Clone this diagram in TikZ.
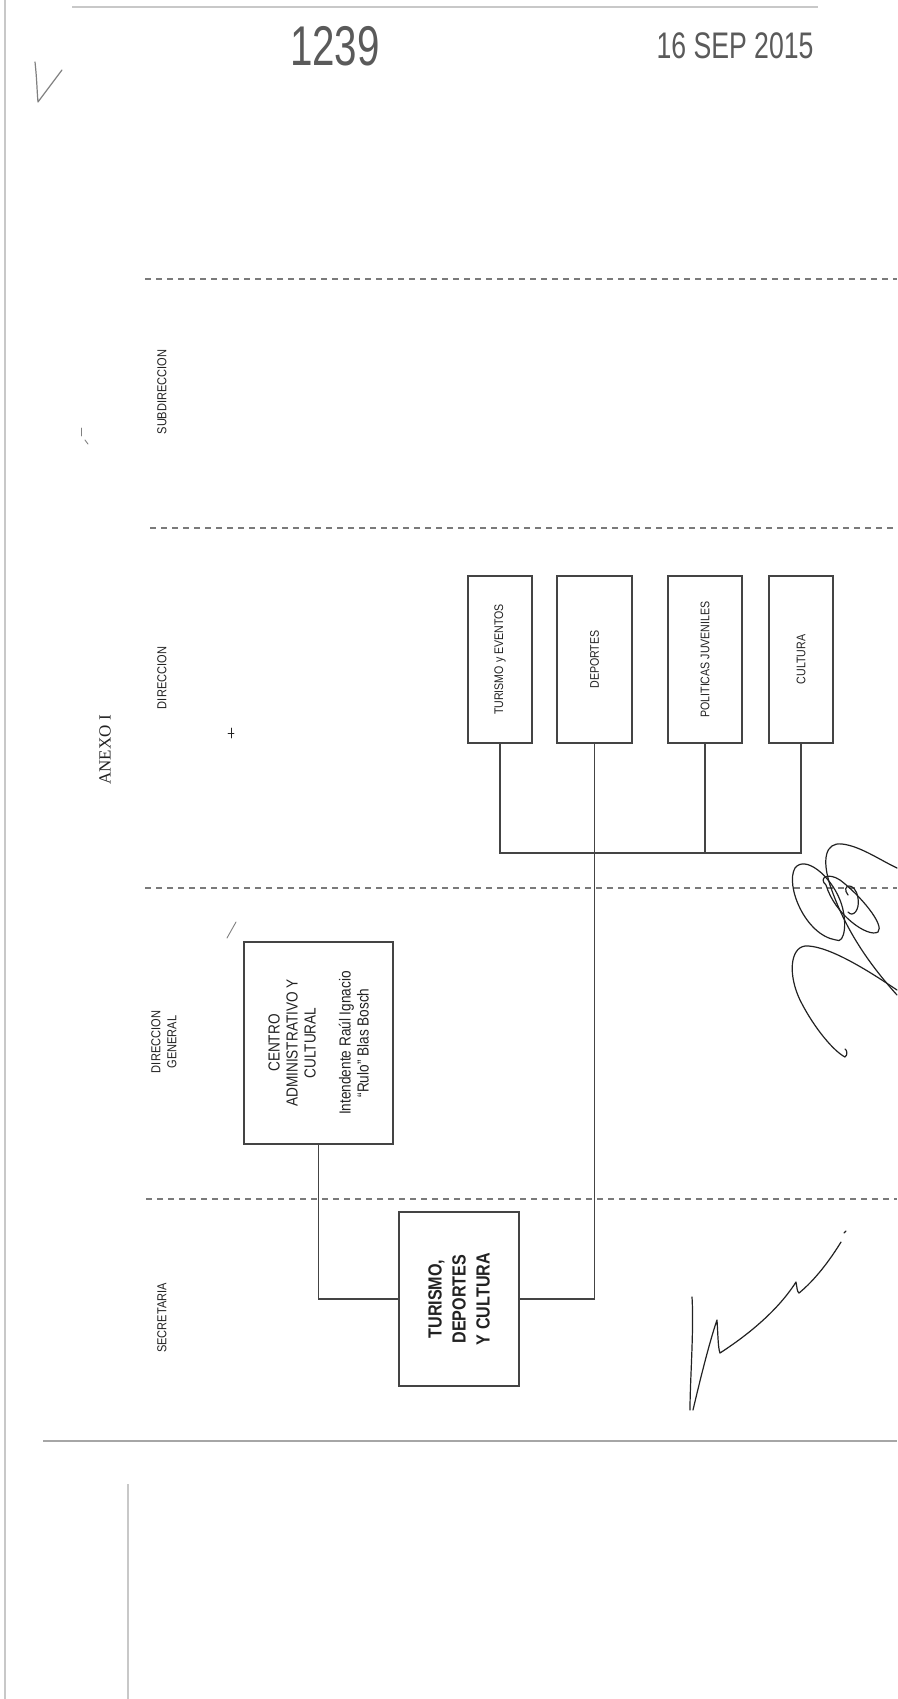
\documentclass[tikz,border=0pt]{standalone}
\usepackage{fontspec}
\setmainfont{Liberation Sans}[FakeStretch=0.85]
\newfontfamily\anexofont{Liberation Serif}
\newfontfamily\stampfont{Liberation Sans}[FakeStretch=0.72]
\usepackage{xcolor}
\usepackage{tikz}
\usetikzlibrary{positioning,calc}

\definecolor{inkcol}{HTML}{222222}
\definecolor{linecol}{HTML}{444444}
\definecolor{dashcol}{HTML}{7A7A7A}
\definecolor{stampcol}{HTML}{5A5A5A}
\definecolor{edgecol}{HTML}{C8C8C8}

\begin{document}
\begin{tikzpicture}[
    x=1pt, y=-1pt,
    unit/.style={
        draw=linecol,
        line width=1.1pt,
        rotate=90,
        inner sep=0pt,
        align=center,
        text=inkcol,
        font=\fontsize{12.5}{14}\selectfont
    },
    band/.style={
        rotate=90,
        align=center,
        text=inkcol,
        font=\fontsize{13}{16}\selectfont
    },
    sep/.style={draw=dashcol, line width=1.2pt, dash pattern=on 6pt off 5pt},
    link/.style={draw=linecol, line width=1.1pt},
    scrawl/.style={draw=inkcol, line width=1.2pt, line cap=round, line join=round},
    faint/.style={draw=edgecol, line width=1.6pt}
]

\useasboundingbox[fill=white] (0,0) rectangle (897,1699);

% ------------------------------------------------------------
% Page edges
% ------------------------------------------------------------

\draw[faint] (5,0) -- (5,1699);
\draw[faint] (72,7) -- (818,7);
\draw[faint] (128,1484) -- (128,1699);
\draw[draw=gray!70, line width=1.3pt] (43,1441) -- (897,1441);

% ------------------------------------------------------------
% Stamps and title
% ------------------------------------------------------------

\node[text=stampcol, font=\stampfont\fontsize{56}{56}\selectfont] (num) at (335,46) {1239};
\node[text=stampcol, font=\stampfont\fontsize{37}{37}\selectfont] (date) at (735,46) {16 SEP 2015};
\node[rotate=90, text=inkcol, font=\anexofont\fontsize{17}{20}\selectfont] (anexo) at (105,750) {ANEXO I};

% ------------------------------------------------------------
% Bands
% ------------------------------------------------------------

\draw[sep] (145,279) -- (897,279);
\draw[sep] (150,528) -- (897,528);
\draw[sep] (145,888) -- (897,888);
\draw[sep] (146,1199) -- (897,1199);

\node[band] (lsub) at (162,392) {SUBDIRECCION};
\node[band] (ldir) at (162,678) {DIRECCION};
\node[band] (lgen) at (164,1042) {DIRECCION\\GENERAL};
\node[band] (lsec) at (162,1318) {SECRETARIA};

% ------------------------------------------------------------
% Units
% ------------------------------------------------------------

\node[unit, minimum width=167pt, minimum height=64pt] (tye) at (500,659.5)
    {TURISMO y EVENTOS};
\node[unit, minimum width=167pt, minimum height=75pt] (dep) at (594.5,659.5)
    {DEPORTES};
\node[unit, minimum width=167pt, minimum height=74pt] (pol) at (705,659.5)
    {POLITICAS JUVENILES};
\node[unit, minimum width=167pt, minimum height=64pt] (cul) at (801,659.5)
    {CULTURA};

\node[unit, minimum width=202pt, minimum height=149pt,
      font=\fontsize{16}{18}\selectfont] (cac) at (318.5,1043)
    {CENTRO\\ADMINISTRATIVO Y\\CULTURAL\\[17pt]Intendente Raúl Ignacio\\“Rulo” Blas Bosch};

\node[unit, minimum width=174pt, minimum height=120pt,
      font=\bfseries\fontsize{19}{24}\selectfont] (tdc) at (459,1299)
    {TURISMO,\\DEPORTES\\Y CULTURA};

% ------------------------------------------------------------
% Connectors
% ------------------------------------------------------------

\coordinate (bus) at (0,853);

\draw[link] (tye.west) -- (tye.west |- bus) -- (cul.west |- bus) -- (cul.west);
\draw[link] (pol.west) -- (pol.west |- bus);
\draw[link] (dep.west) |- (tdc.south);
\draw[link] (cac.west) |- (tdc.north);

% ------------------------------------------------------------
% Hand marks and signatures
% ------------------------------------------------------------

\draw[scrawl, draw=gray] (35,62) .. controls (37,80) and (37,92) .. (38,102) -- (62,70);
\draw[scrawl, draw=gray, line width=0.9pt] (81,428) -- (81,436);
\draw[scrawl, draw=gray, line width=0.9pt] (85,440) -- (88,444);
\draw[scrawl, line width=0.9pt] (231,728) -- (231,738);
\draw[scrawl, line width=0.9pt] (228,733) -- (234,733);
\draw[scrawl, draw=gray, line width=0.9pt] (227,938) -- (236,922);

\draw[scrawl] (836,940) .. controls (805,935) and (785,885) .. (795,868)
    .. controls (805,855) and (830,875) .. (840,900)
    .. controls (848,920) and (845,945) .. (836,940);
\draw[scrawl] (830,885) .. controls (822,860) and (825,842) .. (842,844)
    .. controls (860,846) and (880,860) .. (897,868);
\draw[scrawl] (826,885) .. controls (818,878) and (828,872) .. (840,880)
    .. controls (860,895) and (885,925) .. (878,932)
    .. controls (868,938) and (835,915) .. (826,885);
\draw[scrawl] (848,895) .. controls (840,885) and (855,880) .. (858,898)
    .. controls (860,910) and (853,918) .. (848,912);
\draw[scrawl] (830,885) .. controls (845,930) and (870,965) .. (897,995);
\draw[scrawl] (897,990) .. controls (860,965) and (825,945) .. (805,946)
    .. controls (790,948) and (788,975) .. (800,1000)
    .. controls (815,1030) and (835,1052) .. (845,1057)
    .. controls (848,1055) and (847,1050) .. (845,1049);

\draw[scrawl] (692,1297) .. controls (694,1330) and (690,1380) .. (690,1410);
\draw[scrawl] (693,1410) .. controls (700,1380) and (710,1340) .. (717,1320)
    .. controls (718,1335) and (718,1348) .. (720,1353)
    .. controls (740,1340) and (775,1315) .. (796,1282)
    .. controls (797,1287) and (797,1292) .. (799,1293)
    .. controls (815,1280) and (830,1260) .. (841,1242);
\draw[scrawl] (844,1233) -- (846,1231);

\end{tikzpicture}
\end{document}
